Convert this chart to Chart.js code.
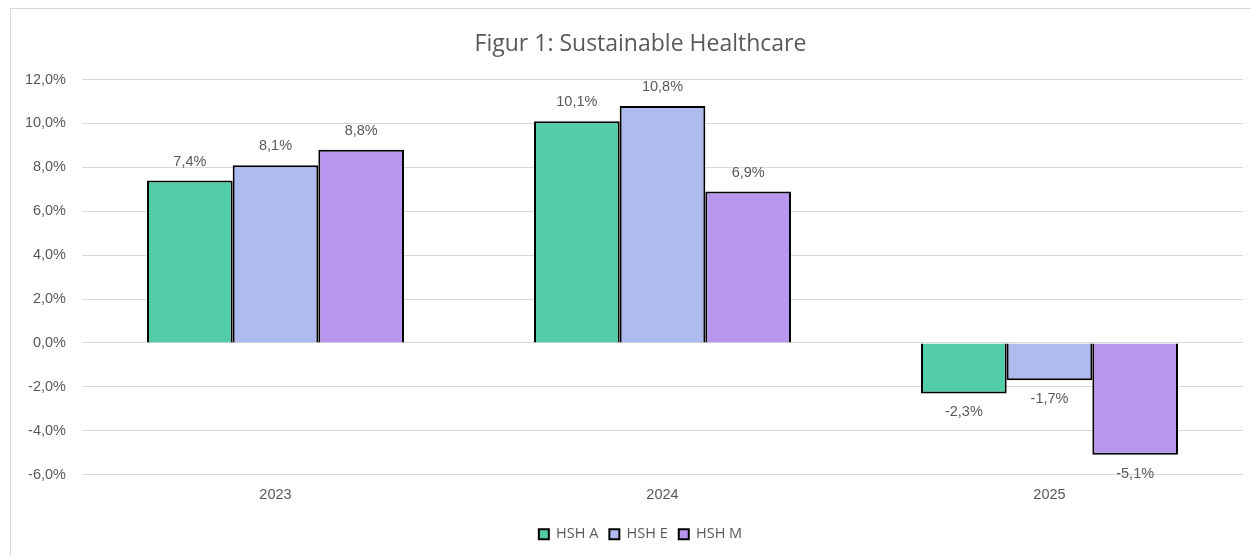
<!DOCTYPE html>
<html>
<head>
<meta charset="utf-8">
<script src="https://cdn.jsdelivr.net/npm/chart.js@4.4.1/dist/chart.umd.min.js"></script>
<style>
  html, body { margin: 0; padding: 0; background: #fff; overflow: hidden; }
  #wrap { position: relative; width: 1251px; height: 556px; }
  #frame { position: absolute; left: 10px; top: 8px; width: 1300px; height: 600px; border: 1px solid #d9d9d9; box-sizing: border-box; }
  canvas { position: absolute; left: 0; top: 0; }
</style>
</head>
<body>
<div id="wrap">
  <div id="frame"></div>
  <canvas id="c" width="1251" height="556"></canvas>
</div>
<script>
const categories = ['2023', '2024', '2025'];
const seriesNames = ['HSH A', 'HSH E', 'HSH M'];
const hshA = [7.4, 10.1, -2.3];
const hshE = [8.1, 10.8, -1.7];
const hshM = [8.8, 6.9, -5.1];
const yMin = -6, yMax = 12, yStep = 2;
const colors = ['#52CDA8', '#AEBBEF', '#B896EE'];
const titleText = 'Figur 1: Sustainable Healthcare';

const fmt = v => v.toFixed(1).replace('.', ',') + '%';
const textColor = '#595959';
const numFont = '"Liberation Sans", Arial, sans-serif';
const txtFont = '"Open Sans", sans-serif';

const dataLabels = {
  id: 'dataLabels',
  afterDatasetsDraw(chart) {
    const ctx = chart.ctx;
    ctx.save();
    ctx.font = '14.5px ' + numFont;
    ctx.fillStyle = textColor;
    ctx.textAlign = 'center';
    ctx.textBaseline = 'middle';
    chart.data.datasets.forEach((ds, i) => {
      const meta = chart.getDatasetMeta(i);
      meta.data.forEach((bar, j) => {
        const v = ds.data[j];
        const y = v >= 0 ? bar.y - 19 : bar.y + 19;
        ctx.fillText(fmt(v), bar.x, y);
      });
    });
    ctx.restore();
  }
};

// shift title and legend so they are centred over the plot region like the reference
const shiftBlocks = {
  id: 'shiftBlocks',
  afterLayout(chart) {
    if (chart.titleBlock) chart.titleBlock.left += 38;
    if (chart.legend) chart.legend.left += 38;
  }
};

const datasets = [hshA, hshE, hshM].map((d, i) => ({
  label: seriesNames[i],
  data: d,
  backgroundColor: colors[i],
  borderColor: '#000',
  borderWidth: 2,
  barPercentage: 1,
  categoryPercentage: 0.664
}));

new Chart(document.getElementById('c'), {
  type: 'bar',
  data: { labels: categories, datasets },
  plugins: [dataLabels, shiftBlocks],
  options: {
    responsive: false,
    animation: false,
    layout: { padding: { left: 0, right: 8, top: 0, bottom: 4.5 } },
    plugins: {
      title: {
        display: true,
        text: titleText,
        color: textColor,
        font: { family: txtFont, size: 23, weight: 'normal' },
        padding: { top: 31, bottom: 21 }
      },
      legend: {
        position: 'bottom',
        labels: {
          color: textColor,
          font: { family: txtFont, size: 14.5 },
          boxWidth: 10,
          boxHeight: 10,
          padding: 11
        }
      },
      tooltip: { enabled: false }
    },
    scales: {
      x: {
        grid: { display: false, drawTicks: false },
        border: { display: false },
        ticks: { color: textColor, font: { family: numFont, size: 14.5 }, padding: 12 }
      },
      y: {
        min: yMin, max: yMax,
        afterFit(scale) { scale.width = 82; },
        grid: { color: '#d9d9d9', lineWidth: 1, drawTicks: false },
        border: { display: false },
        ticks: {
          stepSize: yStep,
          color: textColor,
          font: { family: numFont, size: 14.5 },
          padding: 16,
          callback: v => fmt(v)
        }
      }
    }
  }
});
</script>
</body>
</html>
